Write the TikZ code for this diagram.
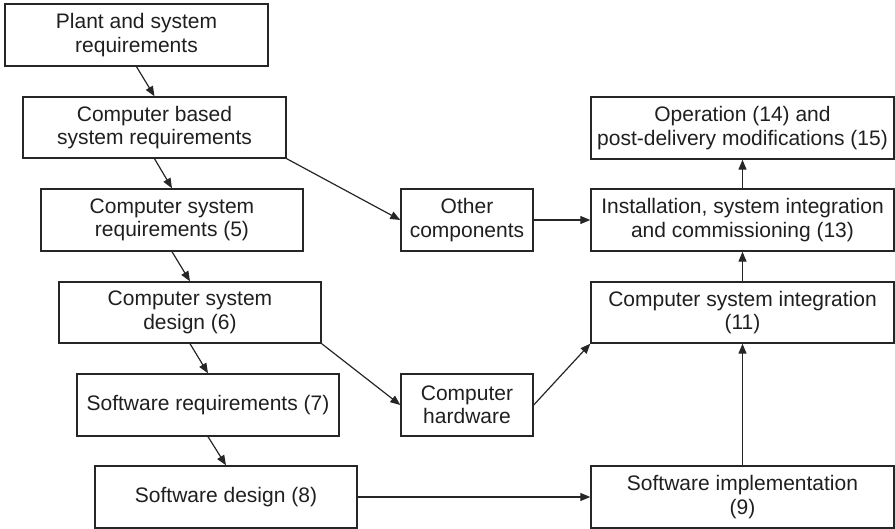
\documentclass[tikz,border=0pt]{standalone}
\usepackage{fontspec}
\setmainfont{Liberation Sans}
\usetikzlibrary{arrows.meta}
\begin{document}
\begin{tikzpicture}[x=1pt,y=-1pt,
  box/.style={draw=black!85, line width=1.4pt, align=center, inner sep=0pt,
    font=\fontsize{21}{23.5}\selectfont, text=black!88},
  conn/.style={draw=black!85, line width=1.2pt, -{Triangle[length=10pt,width=8pt]}}]
\useasboundingbox (0,0) rectangle (895,529);
\node[box, minimum width=263pt, minimum height=62pt] (b1) at (136.5,35) {Plant and system\\requirements};
\node[box, minimum width=263pt, minimum height=61pt] (b2) at (154.5,127.5) {Computer based\\system requirements};
\node[box, minimum width=262pt, minimum height=62pt] (b3) at (172,220) {Computer system\\requirements (5)};
\node[box, minimum width=262pt, minimum height=61pt] (b4) at (190,312.5) {Computer system\\design (6)};
\node[box, minimum width=262pt, minimum height=62pt] (b5) at (208,405) {Software requirements (7)};
\node[box, minimum width=262pt, minimum height=62pt] (b6) at (226,497) {Software design (8)};
\node[box, minimum width=132pt, minimum height=62pt] (oc) at (467,220) {Other\\components};
\node[box, minimum width=132pt, minimum height=62pt] (hw) at (467,405) {Computer\\hardware};
\node[box, minimum width=303pt, minimum height=62pt] (op) at (742.5,128) {Operation (14) and\\post-delivery modifications (15)};
\node[box, minimum width=303pt, minimum height=62pt] (in) at (742.5,220) {Installation, system integration\\and commissioning (13)};
\node[box, minimum width=303pt, minimum height=61pt] (csi) at (742.5,312.5) {Computer system integration\\(11)};
\node[box, minimum width=303pt, minimum height=62pt] (si) at (742.5,497) {Software implementation\\(9)};
\draw[conn] (b1.south) -- (b2.north);
\draw[conn] (b2.south) -- (b3.north);
\draw[conn] (b3.south) -- (b4.north);
\draw[conn] (b4.south) -- (b5.north);
\draw[conn] (b5.south) -- (b6.north);
\draw[conn] (b2.south east) -- (oc.west);
\draw[conn] (b4.south east) -- (hw.west);
\draw[conn] (oc.east) -- (in.west);
\draw[conn] (hw.east) -- (csi.south west);
\draw[conn] (b6.east) -- (si.west);
\draw[conn] (si.north) -- (csi.south);
\draw[conn] (csi.north) -- (in.south);
\draw[conn] (in.north) -- (op.south);
\end{tikzpicture}
\end{document}
